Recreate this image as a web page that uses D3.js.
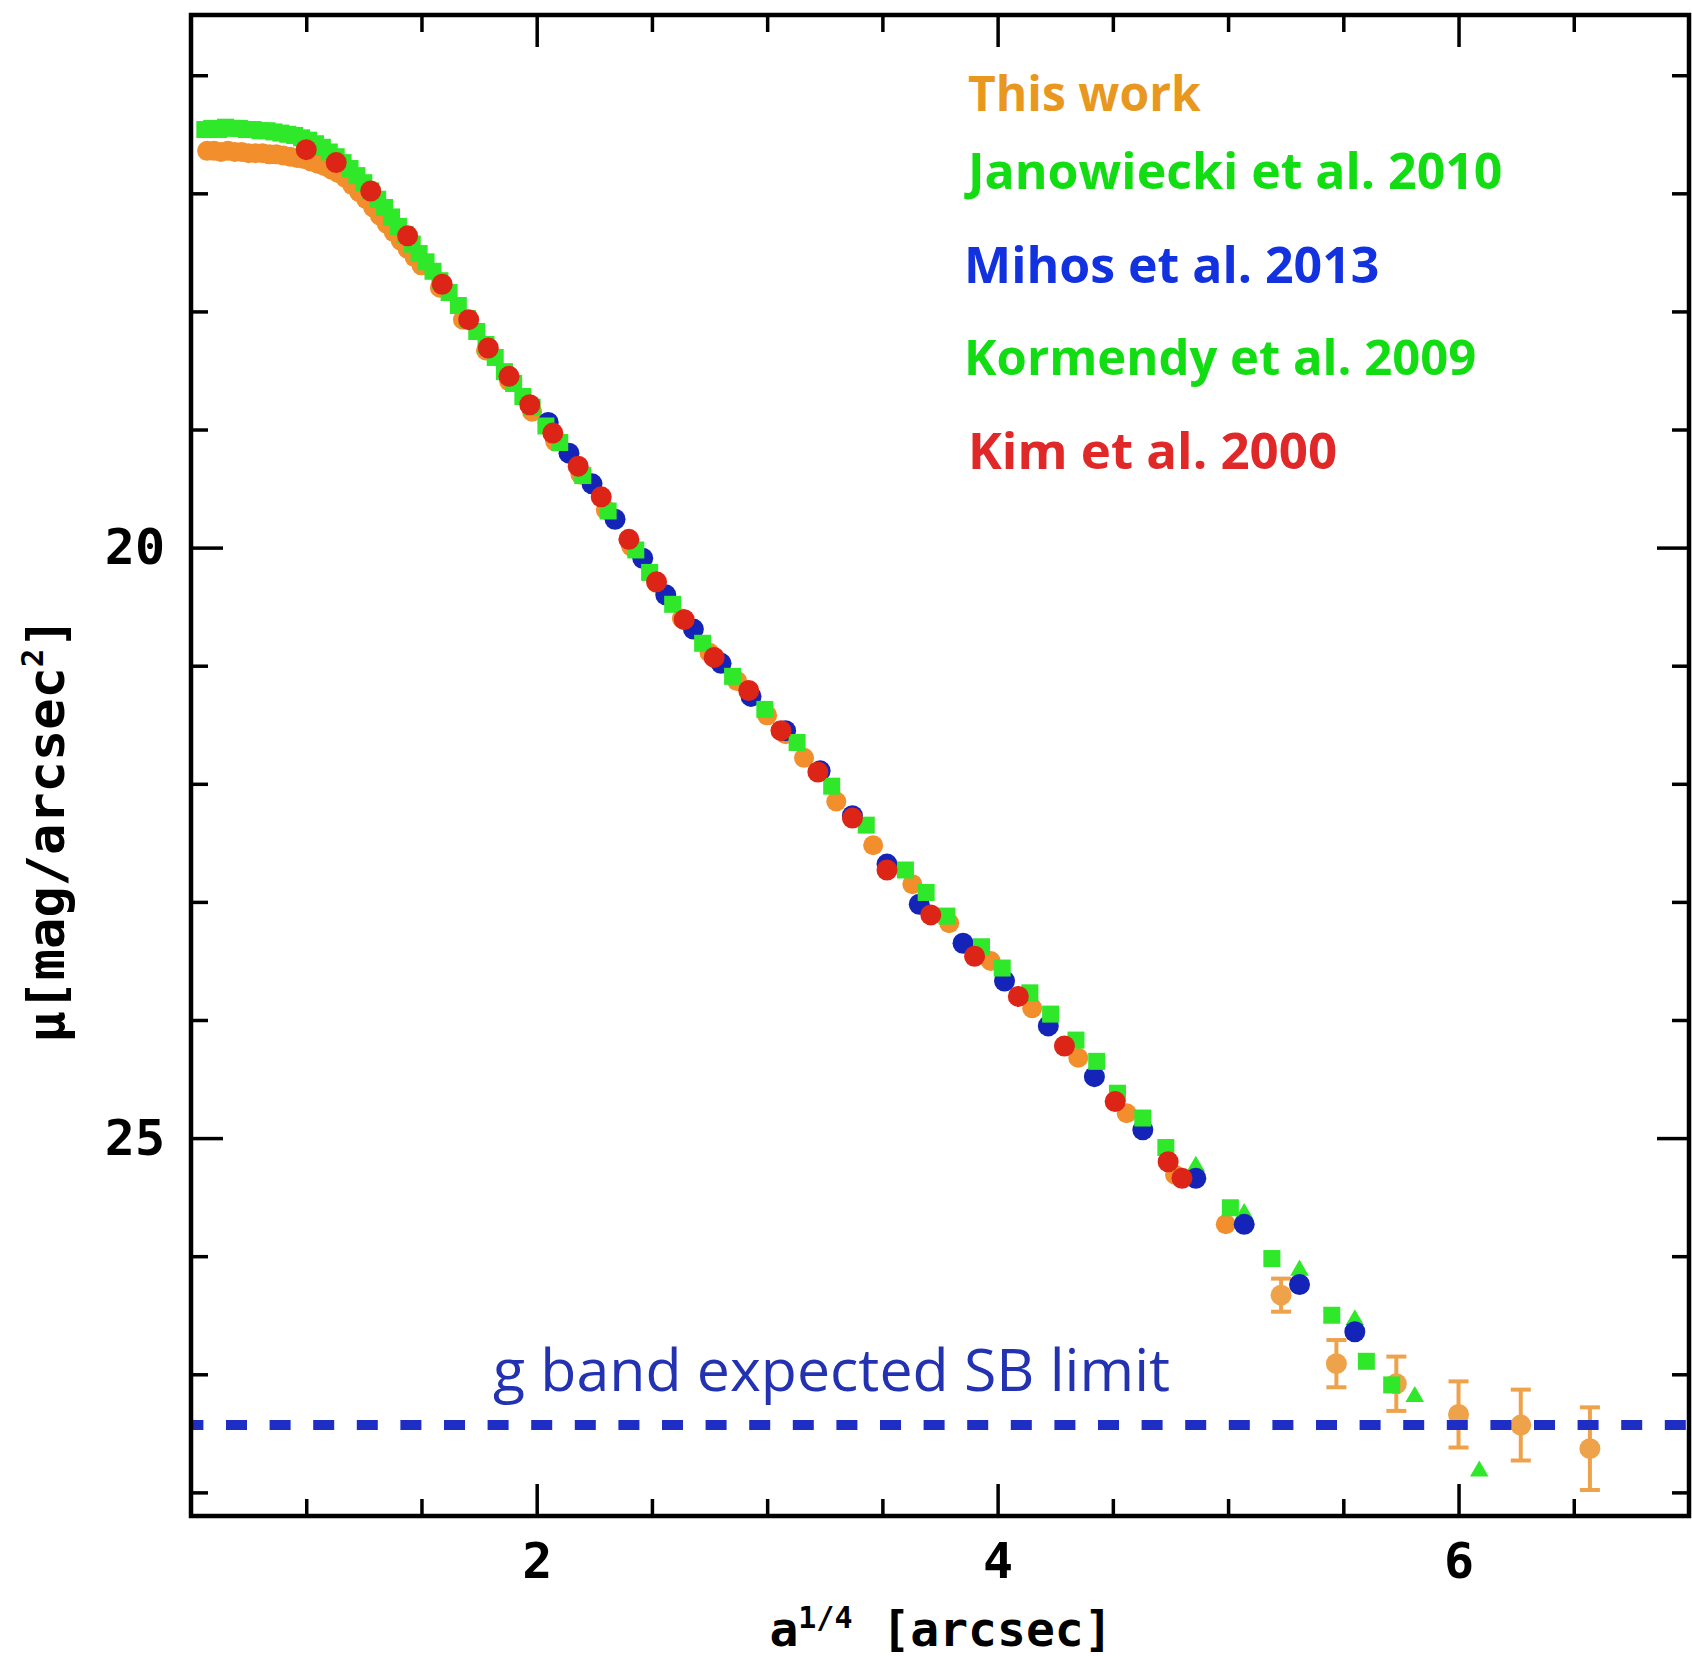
<!DOCTYPE html>
<html>
<head>
<meta charset="utf-8">
<script src="https://cdn.jsdelivr.net/npm/d3@7"></script>
<style>
  html, body { margin: 0; padding: 0; background: #ffffff; }
  svg { display: block; }
</style>
</head>
<body>
<script>
// Surface-brightness profile: mu [mag/arcsec^2] against a^(1/4) [arcsec]

// This work: inner profile points
const thisWorkR  = [0.57,0.60,0.63,0.66,0.69,0.72,0.75,0.78,0.81,0.84,0.87,0.90,0.93,0.96,0.99,1.02,1.05,1.08,1.11,1.14,1.17,1.20,1.23,1.26,1.29,1.32,1.35,1.38,1.41,1.44,1.47,1.50,
                    1.58,1.68,1.78,1.88,1.98,2.08,2.19,2.30,2.41,2.52,2.63,2.75,2.87,3.00,3.08,3.16,3.30,3.46,3.63,3.79,3.97,4.15,4.35,4.56,4.77,4.99];
const thisWorkMu = [16.64,16.64,16.65,16.64,16.65,16.65,16.66,16.66,16.66,16.67,16.67,16.68,16.69,16.70,16.71,16.73,16.75,16.77,16.80,16.83,16.87,16.93,16.99,17.05,17.12,17.19,17.26,17.33,17.40,17.47,17.54,17.61,
                    17.80,18.07,18.33,18.59,18.85,19.10,19.38,19.68,19.99,20.30,20.60,20.89,21.13,21.42,21.58,21.78,22.15,22.52,22.85,23.18,23.50,23.90,24.32,24.79,25.31,25.73];

// This work: outer points with error bars
const thisWorkTailR   = [5.23,5.47,5.73,6.00,6.27,6.57];
const thisWorkTailMu  = [26.33,26.91,27.08,27.34,27.43,27.63];
const thisWorkTailErr = [0.14,0.20,0.23,0.28,0.30,0.35];

// Janowiecki et al. 2010
const janowieckiR  = [0.56,0.59,0.62,0.65,0.68,0.71,0.74,0.77,0.80,0.83,0.86,0.89,0.92,0.95,0.98,1.01,1.04,1.07,1.10,1.13,1.16,1.19,1.22,1.25,1.28,1.31,1.34,1.37,1.40,1.43,1.46,1.49,1.52,1.55,1.58,
                      1.62,1.66,1.70,1.74,1.78,1.82,1.86,1.90,1.94,1.98,
                      2.04,2.10,2.20,2.31,2.43,2.49,2.59,2.72,2.85,2.99,3.13,3.28,3.43,3.60,3.69,3.78,3.93,4.02,4.14,4.23,4.34,4.43,4.52,4.63,4.73,5.01,5.19,5.45,5.60,5.71];
const janowieckiMu = [16.46,16.45,16.46,16.44,16.45,16.45,16.46,16.46,16.47,16.47,16.48,16.49,16.50,16.51,16.53,16.55,16.58,16.61,16.65,16.69,16.74,16.79,16.85,16.91,16.98,17.05,17.12,17.20,17.28,17.35,17.43,17.51,17.58,17.66,17.74,
                      17.84,17.95,18.06,18.17,18.28,18.39,18.51,18.61,18.72,18.81,
                      18.97,19.11,19.39,19.69,20.02,20.21,20.48,20.81,21.09,21.37,21.65,22.02,22.35,22.73,22.92,23.12,23.38,23.56,23.77,23.95,24.17,24.35,24.62,24.83,25.08,25.59,26.02,26.50,26.89,27.09];

// Mihos et al. 2013
const mihosR  = [2.05,2.14,2.24,2.34,2.46,2.56,2.68,2.80,2.93,3.08,3.23,3.37,3.52,3.66,3.85,4.03,4.22,4.42,4.63,4.86,5.07,5.31,5.55];
const mihosMu = [18.94,19.20,19.46,19.76,20.09,20.40,20.69,20.98,21.26,21.55,21.89,22.27,22.68,23.02,23.35,23.67,24.05,24.48,24.93,25.34,25.73,26.24,26.64];

// Kormendy et al. 2009
const kormendyR  = [4.86,5.07,5.31,5.55,5.81,6.09];
const kormendyMu = [25.24,25.64,26.12,26.54,27.19,27.82];

// Kim et al. 2000
const kimR  = [1.00,1.13,1.28,1.44,1.59,1.705,1.79,1.88,1.97,2.07,2.18,2.28,2.40,2.52,2.64,2.77,2.92,3.06,3.22,3.37,3.52,3.71,3.90,4.09,4.29,4.51,4.74,4.80];
const kimMu = [16.63,16.74,16.98,17.36,17.77,18.07,18.31,18.55,18.79,19.03,19.31,19.57,19.93,20.29,20.61,20.93,21.21,21.55,21.90,22.29,22.73,23.11,23.46,23.80,24.22,24.69,25.20,25.34];

// Expected g-band surface-brightness limit
const sbLimit = 27.43;
const sbLimitLabel = "g band expected SB limit";

// Axis ticks
const xMajorTicks = [2, 4, 6];
const xMinorTicks = [1, 1.5, 2.5, 3, 3.5, 4.5, 5, 5.5, 6.5];
const yMajorTicks = [20, 25];
const yMinorTicks = [16, 17, 18, 19, 21, 22, 23, 24, 26, 27, 28];

// Legend entries
const legendLabels = ["This work", "Janowiecki et al. 2010", "Mihos et al. 2013", "Kormendy et al. 2009", "Kim et al. 2000"];
const legendColors = ["#e8981e", "#12dd12", "#1232e0", "#12dd12", "#e02828"];

const W = 1692, H = 1656;
const plot = { left: 191, right: 1689, top: 15, bottom: 1516 };

const svg = d3.select("body").append("svg")
  .attr("width", W).attr("height", H)
  .attr("viewBox", `0 0 ${W} ${H}`);

svg.append("rect").attr("width", W).attr("height", H).attr("fill", "#fff");

const x = d3.scaleLinear().domain([0.5, 7.0]).range([plot.left, plot.right]);
const y = d3.scaleLinear().domain([15.49, 28.2]).range([plot.top, plot.bottom]);

const zip = (a, b) => a.map((v, i) => [v, b[i]]);

const col = {
  orange: "#f28e2c",
  orangeTail: "#eea24a",
  green: "#2fe82a",
  blue: "#1424b8",
  red: "#dc2417"
};

const marks = svg.append("g");

// This work, profile
marks.append("g").selectAll("circle")
  .data(zip(thisWorkR, thisWorkMu)).join("circle")
  .attr("cx", d => x(d[0])).attr("cy", d => y(d[1]))
  .attr("r", 10).attr("fill", col.orange);

// This work, outer points with error bars
const tail = marks.append("g").selectAll("g")
  .data(thisWorkTailR.map((r, i) => ({ r, mu: thisWorkTailMu[i], e: thisWorkTailErr[i] })))
  .join("g");
tail.append("line")
  .attr("x1", d => x(d.r)).attr("x2", d => x(d.r))
  .attr("y1", d => y(d.mu - d.e)).attr("y2", d => y(d.mu + d.e))
  .attr("stroke", col.orangeTail).attr("stroke-width", 4);
tail.selectAll("line.cap")
  .data(d => [[d.r, d.mu - d.e], [d.r, d.mu + d.e]]).join("line")
  .attr("class", "cap")
  .attr("x1", d => x(d[0]) - 10).attr("x2", d => x(d[0]) + 10)
  .attr("y1", d => y(d[1])).attr("y2", d => y(d[1]))
  .attr("stroke", col.orangeTail).attr("stroke-width", 4);
tail.append("circle")
  .attr("cx", d => x(d.r)).attr("cy", d => y(d.mu))
  .attr("r", 10.5).attr("fill", col.orangeTail);

// Kormendy et al. 2009 (triangles)
marks.append("g").selectAll("path")
  .data(zip(kormendyR, kormendyMu)).join("path")
  .attr("transform", d => `translate(${x(d[0])},${y(d[1])})`)
  .attr("d", d3.symbol(d3.symbolTriangle, 150))
  .attr("fill", col.green);

// Mihos et al. 2013 (circles)
marks.append("g").selectAll("circle")
  .data(zip(mihosR, mihosMu)).join("circle")
  .attr("cx", d => x(d[0])).attr("cy", d => y(d[1]))
  .attr("r", 10.5).attr("fill", col.blue);

// Janowiecki et al. 2010 (squares)
marks.append("g").selectAll("rect")
  .data(zip(janowieckiR, janowieckiMu)).join("rect")
  .attr("x", d => x(d[0]) - 8.5).attr("y", d => y(d[1]) - 8.5)
  .attr("width", 17).attr("height", 17).attr("fill", col.green);

// Kim et al. 2000 (hexagon-like dots)
marks.append("g").selectAll("circle")
  .data(zip(kimR, kimMu)).join("circle")
  .attr("cx", d => x(d[0])).attr("cy", d => y(d[1]))
  .attr("r", 10.5).attr("fill", col.red);

// Expected SB limit
svg.append("line")
  .attr("x1", plot.left).attr("x2", plot.right)
  .attr("y1", y(sbLimit)).attr("y2", y(sbLimit))
  .attr("stroke", "#1e2ec4").attr("stroke-width", 10)
  .attr("stroke-dasharray", "21,22.6").attr("stroke-dashoffset", 8.6);

svg.append("text")
  .attr("x", 493).attr("y", y(sbLimit) - 34)
  .attr("font-family", "'Open Sans', sans-serif")
  .attr("font-size", 59)
  .attr("fill", "#2232b0")
  .text(sbLimitLabel);

// Legend
const legendY = [111, 189, 283, 375, 469];
const legendX = [968, 968, 964, 964, 968];
const legendSize = [48, 50, 50, 49, 51];
svg.append("g").selectAll("text")
  .data(legendLabels).join("text")
  .attr("x", (d, i) => legendX[i]).attr("y", (d, i) => legendY[i])
  .attr("font-family", "'Open Sans', sans-serif")
  .attr("font-weight", 700)
  .attr("font-size", (d, i) => legendSize[i])
  .attr("fill", (d, i) => legendColors[i])
  .text(d => d);

// Axes: ticks point inward on all four sides
const axisFont = "'DejaVu Sans Mono', monospace";
function styleAxis(g) {
  g.select(".domain").remove();
  g.selectAll(".tick line").attr("stroke", "#000").attr("stroke-width", 3.5);
  g.selectAll(".tick text")
    .attr("font-family", axisFont).attr("font-weight", 700)
    .attr("font-size", 50).attr("fill", "#000");
}

svg.append("g").attr("transform", `translate(0,${plot.bottom})`)
  .call(d3.axisBottom(x).tickValues(xMajorTicks).tickSize(-32).tickSizeOuter(0).tickPadding(26).tickFormat(d3.format("d")))
  .call(styleAxis);
svg.append("g").attr("transform", `translate(0,${plot.bottom})`)
  .call(d3.axisBottom(x).tickValues(xMinorTicks).tickSize(-17).tickSizeOuter(0).tickFormat(""))
  .call(styleAxis);
svg.append("g").attr("transform", `translate(0,${plot.top})`)
  .call(d3.axisTop(x).tickValues(xMajorTicks).tickSize(-32).tickSizeOuter(0).tickFormat(""))
  .call(styleAxis);
svg.append("g").attr("transform", `translate(0,${plot.top})`)
  .call(d3.axisTop(x).tickValues(xMinorTicks).tickSize(-17).tickSizeOuter(0).tickFormat(""))
  .call(styleAxis);

svg.append("g").attr("transform", `translate(${plot.left},0)`)
  .call(d3.axisLeft(y).tickValues(yMajorTicks).tickSize(-32).tickSizeOuter(0).tickPadding(26).tickFormat(d3.format("d")))
  .call(styleAxis);
svg.append("g").attr("transform", `translate(${plot.left},0)`)
  .call(d3.axisLeft(y).tickValues(yMinorTicks).tickSize(-17).tickSizeOuter(0).tickFormat(""))
  .call(styleAxis);
svg.append("g").attr("transform", `translate(${plot.right},0)`)
  .call(d3.axisRight(y).tickValues(yMajorTicks).tickSize(-32).tickSizeOuter(0).tickFormat(""))
  .call(styleAxis);
svg.append("g").attr("transform", `translate(${plot.right},0)`)
  .call(d3.axisRight(y).tickValues(yMinorTicks).tickSize(-17).tickSizeOuter(0).tickFormat(""))
  .call(styleAxis);

// Frame
svg.append("rect")
  .attr("x", plot.left).attr("y", plot.top)
  .attr("width", plot.right - plot.left).attr("height", plot.bottom - plot.top)
  .attr("fill", "none").attr("stroke", "#000").attr("stroke-width", 4.5);

// Axis titles
const xTitle = svg.append("text")
  .attr("x", 941).attr("y", 1646)
  .attr("text-anchor", "middle")
  .attr("font-family", axisFont).attr("font-weight", 700)
  .attr("font-size", 48).attr("fill", "#000");
xTitle.append("tspan").text("a");
xTitle.append("tspan").attr("font-size", 30).attr("dy", -18).text("1/4");
xTitle.append("tspan").attr("dy", 18).text(" [arcsec]");

const yTitle = svg.append("text")
  .attr("transform", `translate(64,830) rotate(-90)`)
  .attr("text-anchor", "middle")
  .attr("font-family", axisFont).attr("font-weight", 700)
  .attr("font-size", 52).attr("fill", "#000");
yTitle.append("tspan").text("\u03bc[mag/arcsec");
yTitle.append("tspan").attr("font-size", 31).attr("dy", -21).text("2");
yTitle.append("tspan").attr("dy", 21).text("]");
</script>
</body>
</html>
